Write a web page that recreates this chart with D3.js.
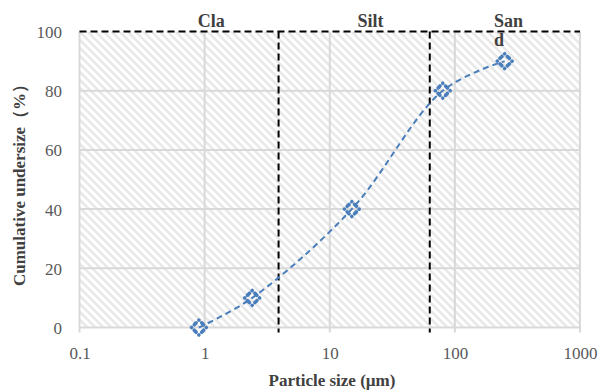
<!DOCTYPE html>
<html>
<head>
<meta charset="utf-8">
<script src="https://cdn.jsdelivr.net/npm/d3@7"></script>
<style>
  html, body { margin: 0; padding: 0; background: #fff; }
  svg { display: block; }
</style>
</head>
<body>
<svg id="chart" width="604" height="392"></svg>
<script>
// ---- data ----
const particleSize = [0.9, 2.4, 15, 80, 250];      // µm
const undersize    = [0, 10, 40, 80, 90];         // %
const xTicks = [0.1, 1, 10, 100, 1000];
const yTicks = [0, 20, 40, 60, 80, 100];
const boundaries = [3.9, 63];                      // clay/silt, silt/sand
const classNames = ["Cla", "Silt", "San"];
const classNameSecondLine = ["", "", "d"];
const classLabelX = [0.88, 16.7, 205];
const topLine = 100;

// ---- layout ----
const svg = d3.select("#chart");
const x = d3.scaleLog().domain([0.1, 1000]).range([79.5, 580]);
const y = d3.scaleLinear().domain([0, 100]).range([327.5, 31.5]);

const serif = "'Liberation Serif','Times New Roman',serif";
const blue = "#4a7ebb";
const grid = "#d9d9d9";

// hatch pattern
const defs = svg.append("defs");
const pat = defs.append("pattern")
  .attr("id", "hatch").attr("patternUnits", "userSpaceOnUse")
  .attr("width", 8).attr("height", 8);
pat.append("rect").attr("width", 8).attr("height", 8).attr("fill", "#fff");
pat.append("path")
  .attr("d", "M-2,-2 L10,10 M-2,6 L2,10 M6,-2 L10,2")
  .attr("stroke", "#e8e8e8").attr("stroke-width", 2.6);

const [x0, x1] = x.range();
const [yb, yt] = y.range();
svg.append("rect")
  .attr("x", x0).attr("y", yt)
  .attr("width", x1 - x0).attr("height", yb - yt)
  .attr("fill", "url(#hatch)");

// gridlines
svg.append("g").selectAll("line").data(yTicks.filter(d => d !== topLine)).join("line")
  .attr("x1", x0).attr("x2", x1)
  .attr("y1", d => y(d)).attr("y2", d => y(d))
  .attr("stroke", grid).attr("stroke-width", 2);
svg.append("g").selectAll("line").data(xTicks).join("line")
  .attr("x1", d => x(d)).attr("x2", d => x(d))
  .attr("y1", yt).attr("y2", yb + 5)
  .attr("stroke", grid).attr("stroke-width", 2);

// axis tick labels
const xAxis = d3.axisBottom(x).tickValues(xTicks).tickFormat(d => String(d)).tickSize(0).tickPadding(0);
const gx = svg.append("g").attr("transform", `translate(0,${yb})`).call(xAxis);
gx.select(".domain").remove();
gx.selectAll("text").attr("dy", null).attr("y", 31)
  .attr("font-family", serif).attr("font-size", 17).attr("fill", "#595959");

const yAxis = d3.axisLeft(y).tickValues(yTicks).tickSize(0).tickPadding(0);
const gy = svg.append("g").attr("transform", `translate(62,0)`).call(yAxis);
gy.select(".domain").remove();
gy.selectAll("text").attr("x", 0).attr("dy", "0.35em")
  .attr("font-family", serif).attr("font-size", 17).attr("fill", "#595959");

// boundaries (dashed black)
svg.append("line")
  .attr("x1", x0).attr("x2", x1)
  .attr("y1", y(topLine)).attr("y2", y(topLine))
  .attr("stroke", "#000").attr("stroke-width", 2).attr("stroke-dasharray", "7 4");
svg.append("g").selectAll("line").data(boundaries).join("line")
  .attr("x1", d => x(d)).attr("x2", d => x(d))
  .attr("y1", y(topLine)).attr("y2", yb + 5)
  .attr("stroke", "#000").attr("stroke-width", 2).attr("stroke-dasharray", "7 4");

// class labels
svg.append("g").selectAll("text").data(classNames).join("text")
  .attr("x", (d, i) => x(classLabelX[i])).attr("y", 27)
  .attr("font-family", serif).attr("font-size", 18).attr("font-weight", "bold")
  .attr("fill", "#404040")
  .text(d => d);
svg.append("g").selectAll("text").data(classNameSecondLine).join("text")
  .attr("x", (d, i) => x(classLabelX[i])).attr("y", 46)
  .attr("font-family", serif).attr("font-size", 18).attr("font-weight", "bold")
  .attr("fill", "#404040")
  .text(d => d);

// data line
const pts = particleSize.map((s, i) => [s, undersize[i]]);
const line = d3.line().x(d => x(d[0])).y(d => y(d[1])).curve(d3.curveCatmullRom.alpha(0.5));
svg.append("path").datum(pts)
  .attr("d", line)
  .attr("fill", "none").attr("stroke", blue).attr("stroke-width", 2)
  .attr("stroke-dasharray", "6 4");

// markers (dashed diamonds)
const sym = d3.symbol().type(d3.symbolSquare).size(110);
svg.append("g").selectAll("path").data(pts).join("path")
  .attr("d", sym)
  .attr("transform", d => `translate(${x(d[0])},${y(d[1])}) rotate(45)`)
  .attr("fill", "none").attr("stroke", blue).attr("stroke-width", 3.6)
  .attr("stroke-linecap", "round")
  .attr("stroke-dasharray", "0 3.9 2.7 3.9");

// axis titles
svg.append("text")
  .attr("x", 332).attr("y", 386).attr("text-anchor", "middle")
  .attr("font-family", serif).attr("font-size", 17).attr("font-weight", "bold")
  .attr("fill", "#404040")
  .text("Particle size (µm)");
svg.append("text")
  .attr("transform", "translate(25,181) rotate(-90)").attr("text-anchor", "middle")
  .attr("font-family", serif).attr("font-size", 17).attr("font-weight", "bold")
  .attr("fill", "#404040")
  .text("Cumulative undersize（%）");
</script>
</body>
</html>
